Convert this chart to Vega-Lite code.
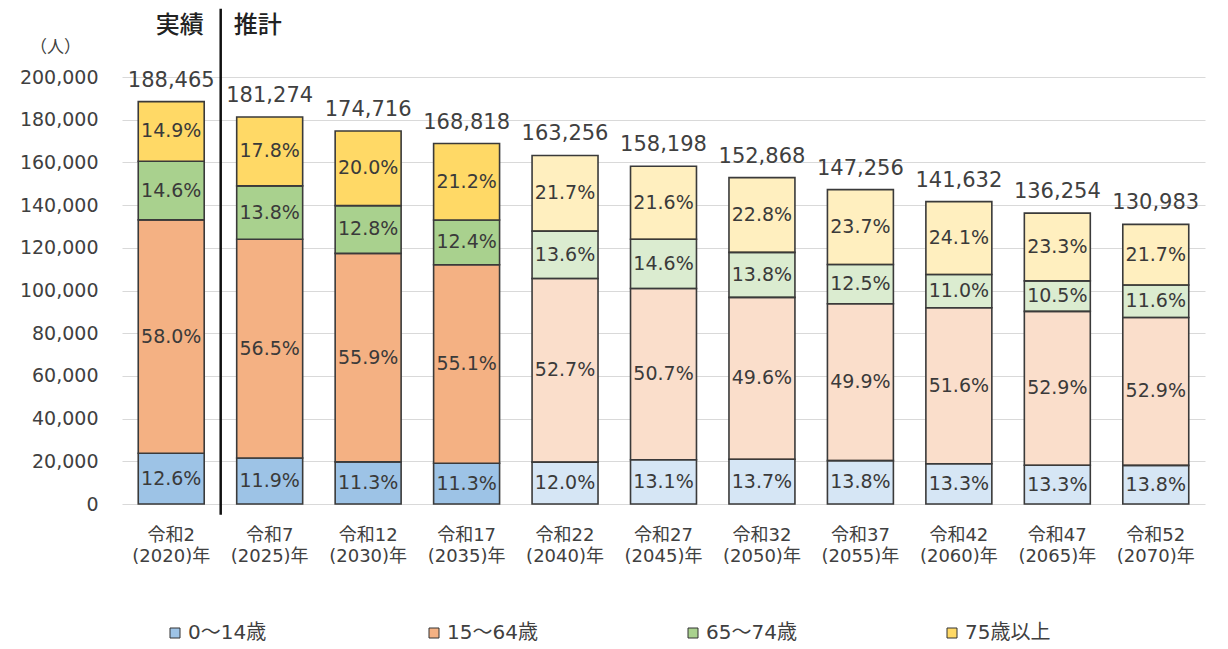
{
  "$schema": "https://vega.github.io/schema/vega-lite/v6.json",
  "width": 1083,
  "height": 427,
  "autosize": {"type": "none"},
  "padding": {"left": 122, "top": 77, "right": 23, "bottom": 145},
  "background": "white",
  "config": {
    "view": {"stroke": null},
    "font": "DejaVu Sans, Noto Sans CJK JP",
    "text": {"font": "DejaVu Sans, Noto Sans CJK JP"}
  },
  "datasets": {
    "pop": [
      {"year": "令和2 (2020)年", "age": "0～14歳", "kind": "実績", "value": 23747, "pct": "12.6%"},
      {"year": "令和2 (2020)年", "age": "15～64歳", "kind": "実績", "value": 109310, "pct": "58.0%"},
      {"year": "令和2 (2020)年", "age": "65～74歳", "kind": "実績", "value": 27516, "pct": "14.6%"},
      {"year": "令和2 (2020)年", "age": "75歳以上", "kind": "実績", "value": 27892, "pct": "14.9%"},
      {"year": "令和7 (2025)年", "age": "0～14歳", "kind": "推計", "value": 21572, "pct": "11.9%"},
      {"year": "令和7 (2025)年", "age": "15～64歳", "kind": "推計", "value": 102420, "pct": "56.5%"},
      {"year": "令和7 (2025)年", "age": "65～74歳", "kind": "推計", "value": 25016, "pct": "13.8%"},
      {"year": "令和7 (2025)年", "age": "75歳以上", "kind": "推計", "value": 32266, "pct": "17.8%"},
      {"year": "令和12 (2030)年", "age": "0～14歳", "kind": "推計", "value": 19743, "pct": "11.3%"},
      {"year": "令和12 (2030)年", "age": "15～64歳", "kind": "推計", "value": 97666, "pct": "55.9%"},
      {"year": "令和12 (2030)年", "age": "65～74歳", "kind": "推計", "value": 22364, "pct": "12.8%"},
      {"year": "令和12 (2030)年", "age": "75歳以上", "kind": "推計", "value": 34943, "pct": "20.0%"},
      {"year": "令和17 (2035)年", "age": "0～14歳", "kind": "推計", "value": 19076, "pct": "11.3%"},
      {"year": "令和17 (2035)年", "age": "15～64歳", "kind": "推計", "value": 93019, "pct": "55.1%"},
      {"year": "令和17 (2035)年", "age": "65～74歳", "kind": "推計", "value": 20933, "pct": "12.4%"},
      {"year": "令和17 (2035)年", "age": "75歳以上", "kind": "推計", "value": 35790, "pct": "21.2%"},
      {"year": "令和22 (2040)年", "age": "0～14歳", "kind": "参考推計", "value": 19591, "pct": "12.0%"},
      {"year": "令和22 (2040)年", "age": "15～64歳", "kind": "参考推計", "value": 86036, "pct": "52.7%"},
      {"year": "令和22 (2040)年", "age": "65～74歳", "kind": "参考推計", "value": 22203, "pct": "13.6%"},
      {"year": "令和22 (2040)年", "age": "75歳以上", "kind": "参考推計", "value": 35426, "pct": "21.7%"},
      {"year": "令和27 (2045)年", "age": "0～14歳", "kind": "参考推計", "value": 20724, "pct": "13.1%"},
      {"year": "令和27 (2045)年", "age": "15～64歳", "kind": "参考推計", "value": 80206, "pct": "50.7%"},
      {"year": "令和27 (2045)年", "age": "65～74歳", "kind": "参考推計", "value": 23097, "pct": "14.6%"},
      {"year": "令和27 (2045)年", "age": "75歳以上", "kind": "参考推計", "value": 34171, "pct": "21.6%"},
      {"year": "令和32 (2050)年", "age": "0～14歳", "kind": "参考推計", "value": 20943, "pct": "13.7%"},
      {"year": "令和32 (2050)年", "age": "15～64歳", "kind": "参考推計", "value": 75823, "pct": "49.6%"},
      {"year": "令和32 (2050)年", "age": "65～74歳", "kind": "参考推計", "value": 21096, "pct": "13.8%"},
      {"year": "令和32 (2050)年", "age": "75歳以上", "kind": "参考推計", "value": 35006, "pct": "22.8%"},
      {"year": "令和37 (2055)年", "age": "0～14歳", "kind": "参考推計", "value": 20321, "pct": "13.8%"},
      {"year": "令和37 (2055)年", "age": "15～64歳", "kind": "参考推計", "value": 73481, "pct": "49.9%"},
      {"year": "令和37 (2055)年", "age": "65～74歳", "kind": "参考推計", "value": 18407, "pct": "12.5%"},
      {"year": "令和37 (2055)年", "age": "75歳以上", "kind": "参考推計", "value": 35047, "pct": "23.7%"},
      {"year": "令和42 (2060)年", "age": "0～14歳", "kind": "参考推計", "value": 18837, "pct": "13.3%"},
      {"year": "令和42 (2060)年", "age": "15～64歳", "kind": "参考推計", "value": 73082, "pct": "51.6%"},
      {"year": "令和42 (2060)年", "age": "65～74歳", "kind": "参考推計", "value": 15580, "pct": "11.0%"},
      {"year": "令和42 (2060)年", "age": "75歳以上", "kind": "参考推計", "value": 34133, "pct": "24.1%"},
      {"year": "令和47 (2065)年", "age": "0～14歳", "kind": "参考推計", "value": 18122, "pct": "13.3%"},
      {"year": "令和47 (2065)年", "age": "15～64歳", "kind": "参考推計", "value": 72078, "pct": "52.9%"},
      {"year": "令和47 (2065)年", "age": "65～74歳", "kind": "参考推計", "value": 14307, "pct": "10.5%"},
      {"year": "令和47 (2065)年", "age": "75歳以上", "kind": "参考推計", "value": 31747, "pct": "23.3%"},
      {"year": "令和52 (2070)年", "age": "0～14歳", "kind": "参考推計", "value": 18076, "pct": "13.8%"},
      {"year": "令和52 (2070)年", "age": "15～64歳", "kind": "参考推計", "value": 69290, "pct": "52.9%"},
      {"year": "令和52 (2070)年", "age": "65～74歳", "kind": "参考推計", "value": 15194, "pct": "11.6%"},
      {"year": "令和52 (2070)年", "age": "75歳以上", "kind": "参考推計", "value": 28423, "pct": "21.7%"}
    ],
    "totals": [
      {"year": "令和2 (2020)年", "total": 188465},
      {"year": "令和7 (2025)年", "total": 181274},
      {"year": "令和12 (2030)年", "total": 174716},
      {"year": "令和17 (2035)年", "total": 168818},
      {"year": "令和22 (2040)年", "total": 163256},
      {"year": "令和27 (2045)年", "total": 158198},
      {"year": "令和32 (2050)年", "total": 152868},
      {"year": "令和37 (2055)年", "total": 147256},
      {"year": "令和42 (2060)年", "total": 141632},
      {"year": "令和47 (2065)年", "total": 136254},
      {"year": "令和52 (2070)年", "total": 130983}
    ],
    "divider": [
      {"year": "令和2 (2020)年", "from": -5000, "to": 232000, "labelY": 224000, "left": "実績", "right": "推計"}
    ]
  },
  "encoding": {
    "x": {
      "field": "year",
      "type": "ordinal",
      "scale": {
        "domain": ["令和2 (2020)年", "令和7 (2025)年", "令和12 (2030)年", "令和17 (2035)年", "令和22 (2040)年", "令和27 (2045)年", "令和32 (2050)年", "令和37 (2055)年", "令和42 (2060)年", "令和47 (2065)年", "令和52 (2070)年"],
        "paddingInner": 0.33,
        "paddingOuter": 0.165
      },
      "axis": {
        "title": null,
        "domain": false,
        "ticks": false,
        "labelAngle": 0,
        "labelExpr": "split(datum.label, ' ')",
        "labelFontSize": 18,
        "labelColor": "#404040",
        "labelPadding": 22,
        "labelLineHeight": 21,
        "labelFont": "DejaVu Sans, Noto Sans CJK JP"
      }
    }
  },
  "layer": [
    {
      "data": {"name": "pop"},
      "transform": [
        {"stack": "value", "groupby": ["year"], "sort": [{"field": "age", "order": "ascending"}], "as": ["v0", "v1"]}
      ],
      "mark": {"type": "bar", "fill": "white", "stroke": null},
      "encoding": {
        "y": {
          "field": "v0",
          "type": "quantitative",
          "scale": {"domain": [0, 200000], "nice": false},
          "axis": {
            "values": [0, 20000, 40000, 60000, 80000, 100000, 120000, 140000, 160000, 180000, 200000],
            "format": ",d",
            "grid": true,
            "gridColor": "#d9d9d9",
            "gridWidth": 1,
            "domain": false,
            "ticks": false,
            "labelPadding": 24,
            "labelFontSize": 19,
            "labelColor": "#404040",
            "labelFont": "DejaVu Sans, Noto Sans CJK JP",
            "title": "（人）",
            "titleAngle": 0,
            "titleX": -67,
            "titleY": -30,
            "titleAlign": "center",
            "titleBaseline": "middle",
            "titleFontSize": 17,
            "titleFontWeight": "normal",
            "titleColor": "#404040",
            "titleFont": "Noto Sans CJK JP"
          }
        },
        "y2": {"field": "v1"}
      }
    },
    {
      "data": {"name": "pop"},
      "transform": [
        {"stack": "value", "groupby": ["year"], "sort": [{"field": "age", "order": "ascending"}], "as": ["v0", "v1"]}
      ],
      "mark": {"type": "bar", "stroke": "#3a3a3a", "strokeWidth": 1.6, "strokeOpacity": 1},
      "encoding": {
        "y": {"field": "v0", "type": "quantitative"},
        "y2": {"field": "v1"},
        "fill": {
          "field": "age",
          "type": "nominal",
          "scale": {
            "domain": ["0～14歳", "15～64歳", "65～74歳", "75歳以上"],
            "range": ["#9DC3E6", "#F4B183", "#A9D18E", "#FFD966"]
          },
          "legend": {
            "title": null,
            "orient": "none",
            "legendX": 43,
            "legendY": 546,
            "direction": "horizontal",
            "columns": 4,
            "columnPadding": 145,
            "gridAlign": "all",
            "symbolType": "square",
            "symbolSize": 100,
            "symbolStrokeColor": "#333333",
            "symbolStrokeWidth": 1,
            "symbolOpacity": 1,
            "labelFontSize": 20,
            "labelColor": "#404040",
            "labelFont": "DejaVu Sans, Noto Sans CJK JP",
            "labelOffset": 3
          }
        },
        "fillOpacity": {
          "condition": {"test": "datum.kind === '参考推計'", "value": 0.42},
          "value": 1
        }
      }
    },
    {
      "data": {"name": "pop"},
      "transform": [
        {"stack": "value", "groupby": ["year"], "sort": [{"field": "age", "order": "ascending"}], "as": ["v0", "v1"]},
        {"calculate": "(datum.v0 + datum.v1) / 2", "as": "mid"}
      ],
      "mark": {"type": "text", "fontSize": 19, "color": "#3a3a3a", "baseline": "middle", "align": "center"},
      "encoding": {
        "y": {"field": "mid", "type": "quantitative"},
        "text": {"field": "pct", "type": "nominal"}
      }
    },
    {
      "data": {"name": "totals"},
      "mark": {"type": "text", "fontSize": 21, "color": "#404040", "baseline": "middle", "align": "center", "dy": -21},
      "encoding": {
        "y": {"field": "total", "type": "quantitative"},
        "text": {"field": "total", "type": "quantitative", "format": ",d"}
      }
    },
    {
      "data": {"name": "divider"},
      "mark": {"type": "rule", "color": "#111111", "strokeWidth": 2.5},
      "encoding": {
        "x": {"field": "year", "type": "ordinal", "bandPosition": 1.25},
        "y": {"field": "from", "type": "quantitative"},
        "y2": {"field": "to"}
      }
    },
    {
      "data": {"name": "divider"},
      "mark": {"type": "text", "fontSize": 24, "color": "#222222", "align": "right", "baseline": "middle", "dx": -17, "font": "Noto Sans CJK JP", "fontWeight": 500},
      "encoding": {
        "x": {"field": "year", "type": "ordinal", "bandPosition": 1.25},
        "y": {"field": "labelY", "type": "quantitative"},
        "text": {"field": "left", "type": "nominal"}
      }
    },
    {
      "data": {"name": "divider"},
      "mark": {"type": "text", "fontSize": 24, "color": "#222222", "align": "left", "baseline": "middle", "dx": 13, "font": "Noto Sans CJK JP", "fontWeight": 500},
      "encoding": {
        "x": {"field": "year", "type": "ordinal", "bandPosition": 1.25},
        "y": {"field": "labelY", "type": "quantitative"},
        "text": {"field": "right", "type": "nominal"}
      }
    }
  ]
}
